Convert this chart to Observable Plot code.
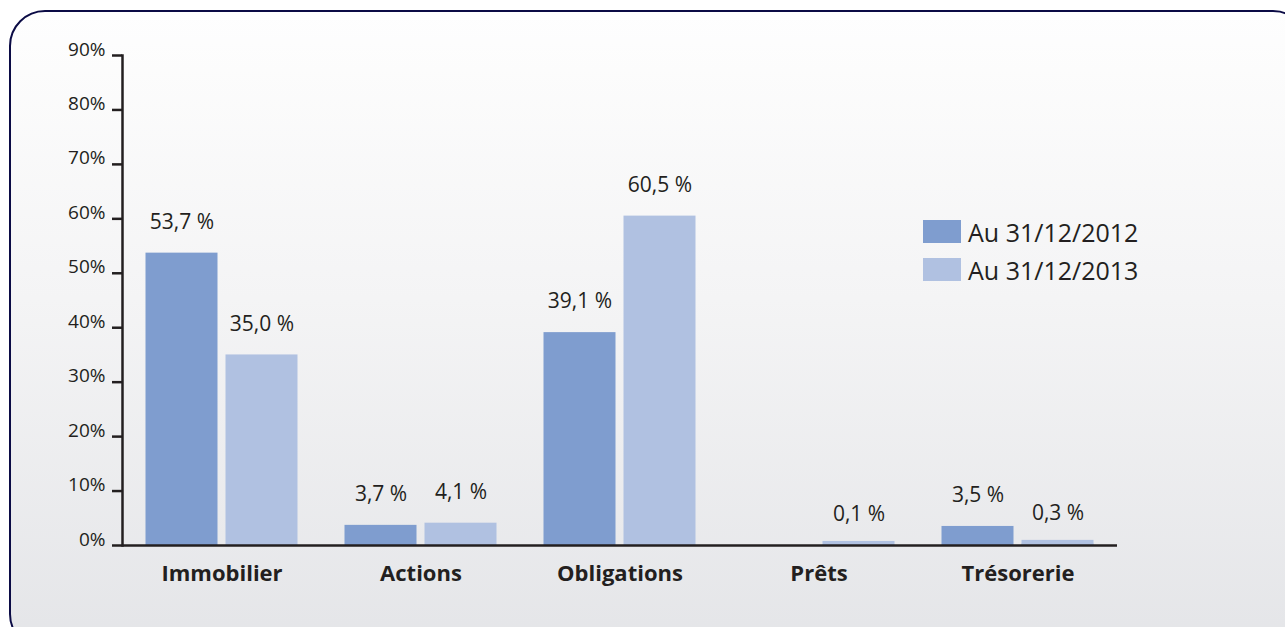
<!DOCTYPE html>
<html>
<head>
<meta charset="utf-8">
<script src="https://cdn.jsdelivr.net/npm/d3@7"></script>
<script src="https://cdn.jsdelivr.net/npm/@observablehq/plot@0.6"></script>
<style>
  html, body { margin: 0; padding: 0; width: 1285px; height: 627px; overflow: hidden; background: #ffffff; }
  #panel {
    position: absolute; left: 9px; top: 10px; width: 1300px; height: 640px;
    border: 2.5px solid #0b0b45; border-radius: 36px; box-sizing: border-box;
    background: linear-gradient(#fefefe 0%, #f4f4f5 45%, #e4e5e8 100%);
  }
  #chart { position: absolute; left: 0; top: 0; }
  #legend { position: absolute; left: 923px; top: 220px; font-family: "Open Sans", sans-serif; font-size: 25px; color: #231f20; }
  .row { display: flex; align-items: center; height: 23px; margin-bottom: 15px; }
  .sw { width: 38px; height: 23px; margin-right: 7px; }
</style>
</head>
<body>
<div id="panel"></div>
<div id="chart"></div>
<div id="legend"></div>
<script>
const categories = ["Immobilier", "Actions", "Obligations", "Prêts", "Trésorerie"];
const seriesNames = ["Au 31/12/2012", "Au 31/12/2013"];
const values2012 = [53.7, 3.7, 39.1, null, 3.5];
const values2013 = [35.0, 4.1, 60.5, 0.1, 0.3];
const yTicks = [0, 10, 20, 30, 40, 50, 60, 70, 80, 90];
const colors = ["#7f9dcf", "#b0c1e1"];

const data2012 = categories.map((c, i) => ({category: c, value: values2012[i]})).filter(d => d.value != null);
const data2013 = categories.map((c, i) => ({category: c, value: values2013[i]})).filter(d => d.value != null);

const fmt = v => d3.format(".1f")(v).replace(".", ",") + " %";
const textColor = "#231f20";

// band width = 199px; bars 72px, gap 8px
const inA = {insetLeft: 23.5, insetRight: 103.5};
const inB = {insetLeft: 103.5, insetRight: 23.5};

const chart = Plot.plot({
  width: 1285,
  height: 627,
  marginLeft: 122,
  marginRight: 168,
  marginTop: 55,
  marginBottom: 82,
  style: {fontFamily: "Open Sans, sans-serif", background: "transparent", color: textColor},
  x: {domain: categories, padding: 0, label: null},
  y: {domain: [0, 90], label: null},
  marks: [
    Plot.barY(data2012, {x: "category", y: "value", fill: colors[0], ...inA}),
    Plot.barY(data2013, {x: "category", y: "value", fill: colors[1], ...inB}),
    Plot.barY(data2013.filter(d => d.value < 1), {x: "category", y: "value", fill: colors[1], ...inB, insetTop: -3.5}),
    Plot.text(data2012, {x: "category", y: "value", text: d => fmt(d.value), dx: -40, dy: -31, fontSize: 21, fill: textColor}),
    Plot.text(data2013, {x: "category", y: "value", text: d => fmt(d.value), dx: 40, dy: -31, fontSize: 21, fill: textColor}),
    Plot.axisY({ticks: yTicks, tickSize: 10, tickFormat: () => "", stroke: textColor, strokeWidth: 2.5}),
    Plot.axisY({ticks: yTicks, tickSize: 0, tickPadding: 17, tickFormat: d => d + "%", dy: -6, fontSize: 19, fill: textColor}),
    Plot.axisX({tickSize: 0, tickPadding: 20, fontSize: 22, fontWeight: "bold", fill: textColor}),
    Plot.frame({anchor: "left", stroke: textColor, strokeWidth: 2.5}),
    Plot.ruleY([0], {stroke: textColor, strokeWidth: 2.5})
  ]
});
document.getElementById("chart").appendChild(chart);

const legend = document.getElementById("legend");
seriesNames.forEach((name, i) => {
  const row = document.createElement("div");
  row.className = "row";
  const sw = document.createElement("div");
  sw.className = "sw";
  sw.style.background = colors[i];
  const t = document.createElement("span");
  t.textContent = name;
  row.appendChild(sw);
  row.appendChild(t);
  legend.appendChild(row);
});
</script>
</body>
</html>
